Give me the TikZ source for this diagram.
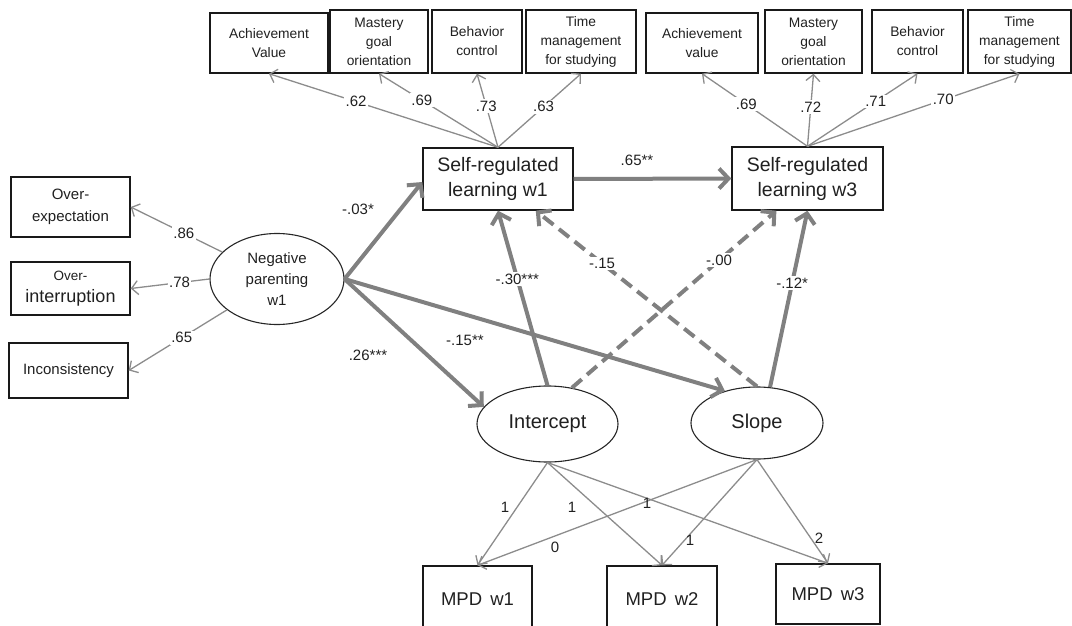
\documentclass[tikz,border=0pt]{standalone}
\usepackage{fontspec}
\setmainfont{Liberation Sans}
\usetikzlibrary{arrows.meta,shapes.geometric}
\definecolor{thickgray}{HTML}{808080}
\definecolor{thingray}{HTML}{8C8C8C}
\definecolor{txt}{HTML}{202020}
\tikzset{
  obsbox/.style={draw=black!90, line width=1.4pt, align=center, inner sep=0pt, text=txt},
  topbox/.style={obsbox, font=\fontsize{13.8}{19}\selectfont},
  leftbox/.style={obsbox, font=\fontsize{15}{22}\selectfont, minimum width=119pt},
  srlbox/.style={obsbox, font=\fontsize{19.5}{25}\selectfont},
  mpdbox/.style={obsbox, font=\fontsize{18.5}{22}\selectfont},
  latent/.style={ellipse, draw=black!85, line width=1.1pt, align=center, inner sep=0pt, text=txt},
  thinarr/.style={draw=thingray, line width=1.3pt, -{Straight Barb[length=6.5pt,width=14pt]}},
  thickarr/.style={draw=thickgray, line width=4pt, -{Straight Barb[length=9.5pt,width=20pt]}},
  dasharr/.style={thickarr, dash pattern=on 13pt off 7pt},
  lab/.style={font=\fontsize{15}{15}\selectfont, text=txt, inner sep=1.5pt},
  onlab/.style={lab, fill=white},
}
\begin{document}
\begin{tikzpicture}[x=1pt,y=-1pt]
\useasboundingbox (0,0) rectangle (1072,626);
% top indicator boxes, wave 1
\node[topbox, minimum width=118pt, minimum height=60pt] (a1) at (269,43) {Achievement\\Value};
\node[topbox, minimum width=98pt, minimum height=63pt] (a2) at (379,41.5) {Mastery\\goal\\orientation};
\node[topbox, minimum width=90pt, minimum height=63pt] (a3) at (477,41.5) {Behavior\\control};
\node[topbox, minimum width=110pt, minimum height=63pt] (a4) at (581,41.5) {Time\\management\\for studying};
% top indicator boxes, wave 3
\node[topbox, minimum width=112pt, minimum height=60pt] (b1) at (702,43) {Achievement\\value};
\node[topbox, minimum width=97pt, minimum height=63pt] (b2) at (813.5,41.5) {Mastery\\goal\\orientation};
\node[topbox, minimum width=91pt, minimum height=63pt] (b3) at (917.5,41.5) {Behavior\\control};
\node[topbox, minimum width=103pt, minimum height=63pt] (b4) at (1019.5,41.5) {Time\\management\\for studying};
% SRL boxes
\node[srlbox, minimum width=150pt, minimum height=62pt] (srl1) at (498,179) {Self-regulated\\learning w1};
\node[srlbox, minimum width=151pt, minimum height=63pt] (srl3) at (807.5,178.5) {Self-regulated\\learning w3};
% left indicators
\node[leftbox, minimum height=60pt] (oe) at (70.5,207) {Over-\\expectation};
\node[leftbox, minimum height=53pt] (oi) at (70.5,288.5) {{\fontsize{13.5}{18}\selectfont Over-}\\{\fontsize{18}{20}\selectfont interruption}};
\node[leftbox, minimum height=55pt] (inc) at (68.5,370.5) {Inconsistency};
% latent
\node[latent, font=\fontsize{15}{21}\selectfont, minimum width=134pt, minimum height=91pt] (np) at (277,279) {Negative\\parenting\\w1};
\node[latent, font=\fontsize{20}{22}\selectfont, minimum width=141pt, minimum height=76pt] (int) at (547.5,424) {Intercept};
\node[latent, font=\fontsize{20}{22}\selectfont, minimum width=132pt, minimum height=72pt] (slp) at (757,423) {Slope};
% MPD boxes
\node[mpdbox, minimum width=109pt, minimum height=66pt] (m1) at (477.5,599) {MPD\, w1};
\node[mpdbox, minimum width=110pt, minimum height=66pt] (m2) at (662,599) {MPD\, w2};
\node[mpdbox, minimum width=104pt, minimum height=60pt] (m3) at (828,594) {MPD\, w3};

% loadings top
\draw[thinarr] (srl1.north) -- node[onlab,pos=0.62]{.62} (a1.south);
\draw[thinarr] (srl1.north) -- node[onlab,pos=0.64]{.69} (a2.south);
\draw[thinarr] (srl1.north) -- node[onlab,pos=0.56]{.73} (a3.south);
\draw[thinarr] (srl1.north) -- node[onlab,pos=0.55]{.63} (a4.south);
\draw[thinarr] (srl3.north) -- node[onlab,pos=0.58]{.69} (b1.south);
\draw[thinarr] (srl3.north) -- node[onlab,pos=0.54]{.72} (b2.south);
\draw[thinarr] (srl3.north) -- node[onlab,pos=0.62]{.71} (b3.south);
\draw[thinarr] (srl3.north) -- node[onlab,pos=0.64]{.70} (b4.south);
% loadings left
\draw[thinarr] (np) -- node[onlab,pos=0.42]{.86} (oe.east);
\draw[thinarr] (np.west) -- node[onlab,pos=0.38]{.78} (oi.east);
\draw[thinarr] (np) -- node[onlab,pos=0.46]{.65} (inc.east);
% growth loadings
\draw[thinarr] (int.south) -- (m1.north);
\draw[thinarr] (int.south) -- (m2.north);
\draw[thinarr] (int.south) -- (m3.north);
\draw[thinarr] (slp.south) -- (m1.north);
\draw[thinarr] (slp.south) -- (m2.north);
\draw[thinarr] (slp.south) -- (m3.north);
\node[lab] (l1) at (505,507) {1};
\node[lab] (l2) at (572,507) {1};
\node[lab] (l3) at (647,503) {1};
\node[lab] (l4) at (555,547) {0};
\node[lab] (l5) at (690,540) {1};
\node[lab] (l6) at (819,538) {2};

% structural paths
\draw[thickarr] (np.east) -- ([yshift=-3pt]srl1.west);
\draw[thickarr] (np.east) -- (int.165);
\draw[thickarr] (np.east) -- (slp.135);
\draw[thickarr] (srl1.east) -- (srl3.west);
\draw[dasharr] (int.56) -- node[onlab,pos=0.72]{-.00} (srl3.226);
\draw[dasharr] (slp.north) -- node[onlab,pos=0.70]{-.15} (srl1.320);
\draw[thickarr] (int.north) -- node[onlab,pos=0.61]{-.30***} (srl1.south);
\draw[thickarr] (slp.70) -- node[onlab,pos=0.59]{-.12*} (srl3.south);
\node[lab] (p1) at (358,209) {-.03*};
\node[lab] (p2) at (368,355) {.26***};
\node[lab] (p3) at (465,340) {-.15**};
\node[lab] (p4) at (637,160) {.65**};
\end{tikzpicture}
\end{document}
